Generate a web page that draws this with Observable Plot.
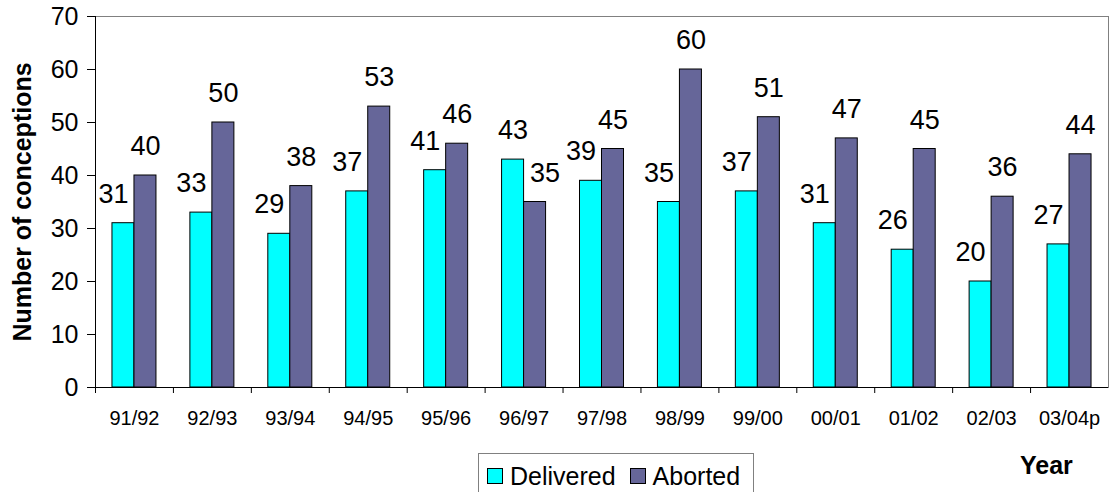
<!DOCTYPE html>
<html>
<head>
<meta charset="utf-8">
<script src="https://cdn.jsdelivr.net/npm/d3@7"></script>
<script src="https://cdn.jsdelivr.net/npm/@observablehq/plot@0.6"></script>
<style>
  body { margin: 0; background: #fff; font-family: "Liberation Sans", Arial, sans-serif; }
  #wrap { position: relative; width: 1109px; height: 492px; overflow: hidden; background: #fff; }
  #chart svg { display: block; }
  #row { position: relative; height: 47px; }
  .legend { position: absolute; left: 478px; top: 8px; width: 276px; height: 60px; box-sizing: border-box;
            border: 1px solid #808080; display: flex; align-items: flex-start; padding: 10px 0 0 8px; }
  .item { display: flex; align-items: center; height: 24px; font-size: 25px; line-height: 24px; color: #000; }
  .sw { width: 16px; height: 16px; box-sizing: border-box; border: 1px solid #000; margin-right: 7px; }
  .item + .item { margin-left: 14px; }
  .xlabel { position: absolute; left: 1020px; top: 6px; font-size: 25px; font-weight: bold; line-height: 28px; color: #000; }
</style>
</head>
<body>
<div id="wrap">
  <div id="chart"></div>
  <div id="row"></div>
</div>
<script>
// ---- data ----
const years = ["91/92","92/93","93/94","94/95","95/96","96/97","97/98","98/99","99/00","00/01","01/02","02/03","03/04p"];
const delivered = [31,33,29,37,41,43,39,35,37,31,26,20,27];
const aborted   = [40,50,38,53,46,35,45,60,51,47,45,36,44];
const seriesNames = ["Delivered","Aborted"];
const seriesColors = ["#00FFFF","#666699"];
const yTicks = [0,10,20,30,40,50,60,70];
const yTitle = "Number of conceptions";
const xTitle = "Year";

const data = years.flatMap((y, i) => [
  {year: y, series: "Delivered", value: delivered[i], other: aborted[i]},
  {year: y, series: "Aborted",   value: aborted[i],   other: delivered[i]}
]);

// ---- layout ----
const W = 1109, H = 445, mL = 95, mR = 1, mT = 16, mB = 58;
const step = (W - mL - mR) / years.length;
const barW = 22;
const inset = (step - barW) / 2;
const font = "'Liberation Sans', Arial, sans-serif";

const isD = d => d.series === "Delivered";
const isA = d => d.series === "Aborted";

const chart = Plot.plot({
  width: W, height: H,
  marginLeft: mL, marginRight: mR, marginTop: mT, marginBottom: mB,
  style: {fontFamily: font, background: "#fff", color: "#000", overflow: "visible"},
  x: {domain: years, padding: 0, round: false, axis: null},
  y: {domain: [0, 70], axis: null},
  color: {domain: seriesNames, range: seriesColors},
  marks: [
    Plot.frame({stroke: "#808080"}),
    Plot.barY(data, {filter: isD, x: "year", y: "value", fill: "series", stroke: "#000", strokeWidth: 1,
                     insetLeft: inset, insetRight: inset, dx: -barW / 2}),
    Plot.barY(data, {filter: isA, x: "year", y: "value", fill: "series", stroke: "#000", strokeWidth: 1,
                     insetLeft: inset, insetRight: inset, dx: barW / 2}),
    Plot.ruleY([0], {stroke: "#000"}),
    Plot.ruleX([years[0]], {dx: -step / 2, stroke: "#000"}),
    Plot.axisY({ticks: yTicks, tickSize: 8, tickPadding: 9, fontSize: 25, label: null, stroke: "#000"}),
    Plot.axisX({tickSize: 0, tickPadding: 23, fontSize: 20, label: null}),
    Plot.axisX({tickSize: 6, tickFormat: () => "", dx: -step / 2, label: null, stroke: "#000"}),
    // value labels (shorter bar's label nudged outward)
    Plot.text(data, {filter: d => isD(d) && d.value < d.other, x: "year", y: "value", text: d => String(d.value),
                     dx: -barW / 2 - 10, dy: -29, fontSize: 27, fill: "#000"}),
    Plot.text(data, {filter: d => isD(d) && d.value >= d.other, x: "year", y: "value", text: d => String(d.value),
                     dx: -barW / 2, dy: -29, fontSize: 27, fill: "#000"}),
    Plot.text(data, {filter: d => isA(d) && d.value < d.other, x: "year", y: "value", text: d => String(d.value),
                     dx: barW / 2 + 10, dy: -29, fontSize: 27, fill: "#000"}),
    Plot.text(data, {filter: d => isA(d) && d.value >= d.other, x: "year", y: "value", text: d => String(d.value),
                     dx: barW / 2, dy: -29, fontSize: 27, fill: "#000"}),
    Plot.text([yTitle], {frameAnchor: "left", textAnchor: "middle", rotate: -90, dx: -72.5, fontSize: 25,
                         fontWeight: "bold", fill: "#000"})
  ]
});
document.getElementById("chart").appendChild(chart);

// ---- legend + x title below the SVG ----
const row = document.getElementById("row");
const leg = document.createElement("div");
leg.className = "legend";
seriesNames.forEach((s, i) => {
  const it = document.createElement("div");
  it.className = "item";
  const sw = document.createElement("span");
  sw.className = "sw";
  sw.style.background = seriesColors[i];
  it.appendChild(sw);
  it.appendChild(document.createTextNode(s));
  leg.appendChild(it);
});
row.appendChild(leg);
const xl = document.createElement("div");
xl.className = "xlabel";
xl.textContent = xTitle;
row.appendChild(xl);
</script>
</body>
</html>
